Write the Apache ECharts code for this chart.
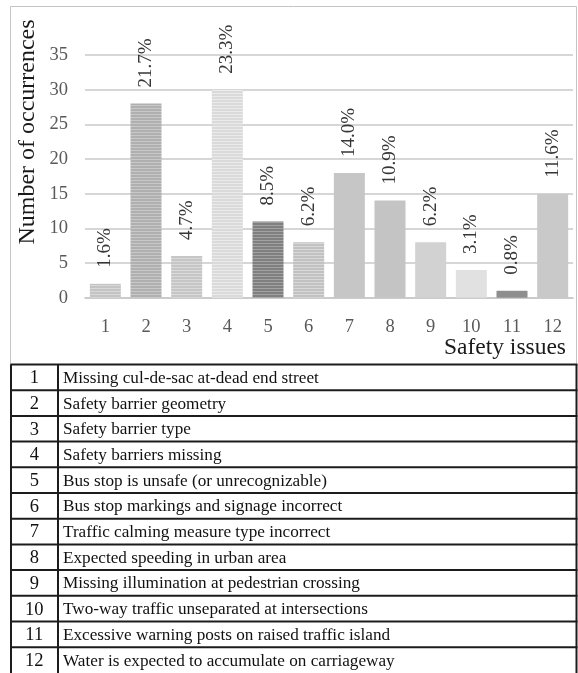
<!DOCTYPE html>
<html>
<head>
<meta charset="utf-8">
<script src="https://cdn.jsdelivr.net/npm/echarts@6/dist/echarts.min.js"></script>
<style>
  html, body { margin: 0; padding: 0; background: #fff; }
  #chart { width: 578px; height: 673px; }
</style>
</head>
<body>
<div id="chart"></div>
<script>
// Safety issue numbers on the category axis
const categories = ['1', '2', '3', '4', '5', '6', '7', '8', '9', '10', '11', '12'];
// Number of occurrences per safety issue
const occurrences = [2, 28, 6, 30, 11, 8, 18, 14, 8, 4, 1, 15];
// Share of all occurrences, printed above each bar
const shareLabels = ['1.6%', '21.7%', '4.7%', '23.3%', '8.5%', '6.2%', '14.0%', '10.9%', '6.2%', '3.1%', '0.8%', '11.6%'];
// Value axis range and step
const yMin = 0, yMax = 35, yStep = 5;
// Legend table: description of each safety issue
const issueNames = [
  'Missing cul-de-sac at-dead end street',
  'Safety barrier geometry',
  'Safety barrier type',
  'Safety barriers missing',
  'Bus stop is unsafe (or unrecognizable)',
  'Bus stop markings and signage incorrect',
  'Traffic calming measure type incorrect',
  'Expected speeding in urban area',
  'Missing illumination at pedestrian crossing',
  'Two-way traffic unseparated at intersections',
  'Excessive warning posts on raised traffic island',
  'Water is expected to accumulate on carriageway'
];

// Bar fills: base grey plus an optional horizontal hatch colour
const barBase   = ['#c4c4c4', '#b0b0b0', '#c6c6c6', '#dadada', '#808080', '#c2c2c2',
                   '#c6c6c6', '#c4c4c4', '#d2d2d2', '#e1e1e1', '#8e8e8e', '#c9c9c9'];
const barHatch  = ['#d8d8d8', '#c8c8c8', '#dadada', '#ebebeb', '#a2a2a2', '#d8d8d8',
                   null, null, null, null, null, null];

function hatchFill(base, hatch) {
  if (!hatch) return base;
  const c = document.createElement('canvas');
  c.width = 4; c.height = 3;
  const g = c.getContext('2d');
  g.fillStyle = base; g.fillRect(0, 0, 4, 3);
  g.fillStyle = hatch; g.fillRect(0, 0, 4, 1);
  return { image: c, repeat: 'repeat' };
}

const SERIF = '"Liberation Serif", "DejaVu Serif", serif';
const W = 578, H = 673;

// Chart frame and legend table geometry
const frame = { left: 10.5, top: 6.5, right: 576.5, bottom: 364.5 };
const table = { top: 364.5, rowH: 25.7, numCol: 58 };

const graphics = [];
graphics.push({
  type: 'rect', z: -1, silent: true,
  shape: { x: frame.left, y: frame.top, width: frame.right - frame.left, height: frame.bottom - frame.top },
  style: { fill: null, stroke: '#c4c4c4', lineWidth: 1 }
});
// Axis titles
graphics.push({
  type: 'text', x: 28, y: 132, rotation: Math.PI / 2,
  style: { text: 'Number of occurrences', font: '24px ' + SERIF, fill: '#1a1a1a', align: 'center', verticalAlign: 'middle' }
});
graphics.push({
  type: 'text', x: 566, y: 348,
  style: { text: 'Safety issues', font: '23.5px ' + SERIF, fill: '#1a1a1a', align: 'right', verticalAlign: 'middle' }
});

// Legend table
const tableLine = { stroke: '#1c1c1c', lineWidth: 2 };
const tableBottom = H + 2;
graphics.push({ type: 'line', shape: { x1: frame.left + 0.5, y1: table.top, x2: frame.left + 0.5, y2: tableBottom }, style: tableLine });
graphics.push({ type: 'line', shape: { x1: table.numCol, y1: table.top, x2: table.numCol, y2: tableBottom }, style: tableLine });
graphics.push({ type: 'line', shape: { x1: frame.right, y1: table.top, x2: frame.right, y2: tableBottom }, style: tableLine });
issueNames.forEach((name, i) => {
  const y0 = table.top + i * table.rowH;
  graphics.push({ type: 'line', shape: { x1: frame.left, y1: y0, x2: frame.right + 1, y2: y0 }, style: tableLine });
  graphics.push({
    type: 'text', x: (frame.left + table.numCol) / 2, y: y0 + table.rowH / 2 + 1,
    style: { text: categories[i], font: '18.5px ' + SERIF, fill: '#111', align: 'center', verticalAlign: 'middle' }
  });
  graphics.push({
    type: 'text', x: table.numCol + 5, y: y0 + table.rowH / 2 + 1,
    style: { text: name, font: '17.2px ' + SERIF, fill: '#111', align: 'left', verticalAlign: 'middle' }
  });
});

const chart = echarts.init(document.getElementById('chart'), null, { renderer: 'canvas', width: W, height: H });
chart.setOption({
  backgroundColor: '#fff',
  animation: false,
  grid: { left: 85, right: 5, top: 55, bottom: 375.3 },
  xAxis: {
    type: 'category',
    data: categories,
    axisTick: { show: false },
    axisLine: { lineStyle: { color: '#c8c8c8', width: 1.5 } },
    axisLabel: { margin: 20, fontFamily: SERIF, fontSize: 18.5, color: '#595959' }
  },
  yAxis: {
    type: 'value',
    min: yMin, max: yMax, interval: yStep,
    axisLine: { show: false },
    axisTick: { show: false },
    splitLine: { lineStyle: { color: '#c8c8c8', width: 1.5 } },
    axisLabel: { margin: 17, fontFamily: SERIF, fontSize: 18.5, color: '#595959' }
  },
  series: [{
    type: 'bar',
    barWidth: 31,
    data: occurrences.map((v, i) => ({ value: v, itemStyle: { color: hatchFill(barBase[i], barHatch[i]) } })),
    label: {
      show: true,
      position: 'top',
      distance: 13,
      rotate: 90,
      align: 'left',
      verticalAlign: 'middle',
      offset: [3, 0],
      fontFamily: SERIF,
      fontSize: 19,
      color: '#363636',
      formatter: p => shareLabels[p.dataIndex]
    }
  }],
  graphic: graphics
});
</script>
</body>
</html>
